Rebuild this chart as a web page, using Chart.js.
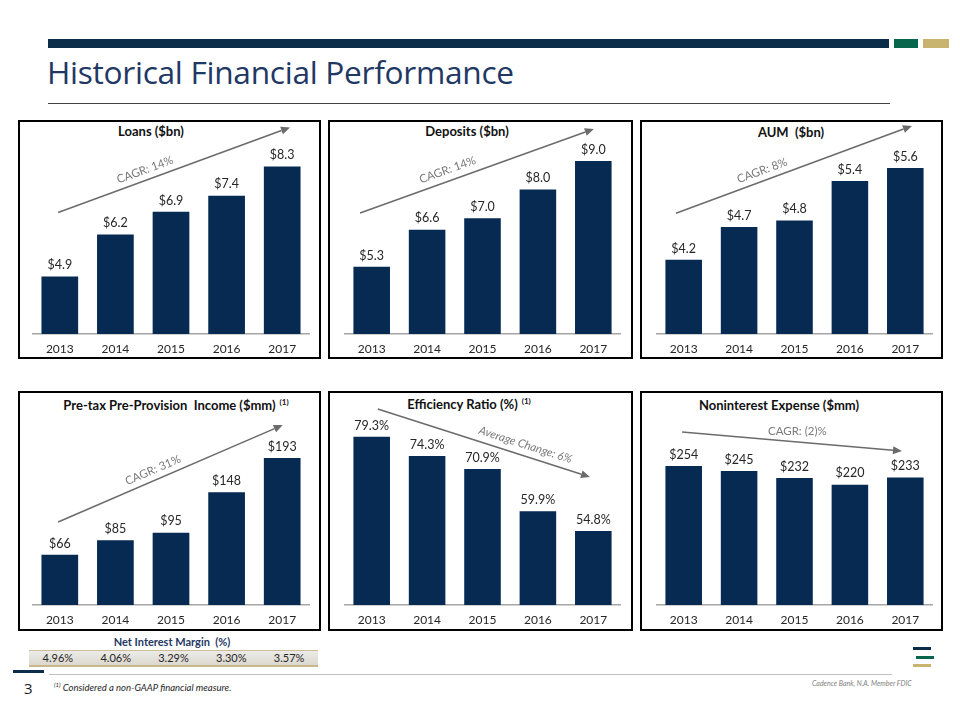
<!DOCTYPE html>
<html><head><meta charset="utf-8">
<script src="https://cdn.jsdelivr.net/npm/chart.js@4.4.1/dist/chart.umd.min.js"></script>
<style>
body{margin:0;width:960px;height:720px;position:relative;background:#fff;font-family:Lato,"Open Sans",sans-serif;overflow:hidden}
.abs{position:absolute}
.panel{position:absolute;border:2px solid #000;box-sizing:border-box}
.ptitle{position:absolute;font-weight:bold;font-size:13px;color:#111;white-space:nowrap;transform:translate(-50%,-50%)}
.ptitle sup{font-size:8px;vertical-align:5px;margin-left:4px}
canvas{position:absolute}
#nimTitle{position:absolute;left:172px;top:641px;transform:translate(-50%,-50%);font-weight:bold;font-size:11px;color:#1f3864;white-space:nowrap}
#nim{position:absolute;left:29px;top:650px;width:289px;height:14px;display:flex;background:linear-gradient(#ecebe7,#dcd8cf);border-top:1px solid #cdbf93;border-bottom:2px solid #c9b98a}
#nim div{flex:1;text-align:center;font-size:11px;line-height:14px;color:#262626}
</style></head><body>
<div class="abs" style="left:48px;top:39px;width:841px;height:9px;background:#0c2d4a"></div>
<div class="abs" style="left:894px;top:39px;width:24px;height:9px;background:#07664c"></div>
<div class="abs" style="left:923px;top:39px;width:26px;height:9px;background:#c8b46e"></div>
<div class="abs" id="title" style="left:47px;top:50px;font-family:'Open Sans';font-size:31.7px;color:#1f3864;white-space:nowrap;letter-spacing:-0.3px">Historical Financial Performance</div>
<div class="abs" style="left:48px;top:103px;width:842px;height:1px;background:#404040"></div>

<div class="panel" style="left:18px;top:120px;width:303px;height:239px"></div>
<div class="panel" style="left:328px;top:120px;width:305px;height:239px"></div>
<div class="panel" style="left:640px;top:120px;width:303px;height:239px"></div>
<div class="panel" style="left:18px;top:391px;width:303px;height:240px"></div>
<div class="panel" style="left:328px;top:391px;width:305px;height:240px"></div>
<div class="panel" style="left:640px;top:391px;width:303px;height:240px"></div>

<div class="ptitle" style="left:151px;top:131px">Loans ($bn)</div>
<div class="ptitle" style="left:467px;top:131px">Deposits ($bn)</div>
<div class="ptitle" style="left:791px;top:132px">AUM&nbsp; ($bn)</div>
<div class="ptitle" style="left:176px;top:405px">Pre-tax Pre-Provision&nbsp; Income ($mm)<sup>(1)</sup></div>
<div class="ptitle" style="left:469px;top:404px">Efficiency Ratio (%)<sup>(1)</sup></div>
<div class="ptitle" style="left:779px;top:405px">Noninterest Expense ($mm)</div>

<canvas id="c1" width="278" height="236" style="left:32px;top:122px"></canvas>
<canvas id="c2" width="277" height="236" style="left:344px;top:122px"></canvas>
<canvas id="c3" width="277" height="236" style="left:656px;top:122px"></canvas>
<canvas id="c4" width="278" height="236" style="left:32px;top:393px"></canvas>
<canvas id="c5" width="277" height="236" style="left:344px;top:393px"></canvas>
<canvas id="c6" width="277" height="236" style="left:656px;top:393px"></canvas>

<div id="nimTitle">Net Interest Margin&nbsp; (%)</div>
<div id="nim"></div>

<div class="abs" style="left:13px;top:670px;width:31px;height:3px;background:#0c2d4a"></div>
<div class="abs" style="left:49px;top:674px;width:843px;height:1px;background:#bfbfbf"></div>
<div class="abs" style="left:24px;top:678px;font-size:15px;color:#1a1a1a;font-family:'Open Sans'">3</div>
<div class="abs" style="left:54px;top:681px;font-size:9.5px;font-style:italic;color:#262626;white-space:nowrap"><sup style="font-size:6px">(1)</sup> Considered a non-GAAP financial measure.</div>
<div class="abs" style="left:812px;top:679px;font-size:7px;font-style:italic;color:#7f7f7f;white-space:nowrap">Cadence Bank, N.A. Member FDIC</div>
<div class="abs" style="left:913px;top:647px;width:18px;height:3px;background:#0c2d4a"></div>
<div class="abs" style="left:916px;top:656px;width:18px;height:3px;background:#07664c"></div>
<div class="abs" style="left:913px;top:664px;width:18px;height:3px;background:#c8b46e"></div>

<script>
const years = ['2013', '2014', '2015', '2016', '2017'];
const loans = [4.9, 6.2, 6.9, 7.4, 8.3];
const deposits = [5.3, 6.6, 7.0, 8.0, 9.0];
const aum = [4.2, 4.7, 4.8, 5.4, 5.6];
const pretaxIncome = [66, 85, 95, 148, 193];
const efficiencyRatio = [79.3, 74.3, 70.9, 59.9, 54.8];
const nonintExpense = [254, 245, 232, 220, 233];
const netInterestMargin = [4.96, 4.06, 3.29, 3.30, 3.57];
const trendLabels = ['CAGR: 14%', 'CAGR: 14%', 'CAGR: 8%', 'CAGR: 31%', 'Average Change: 6%', 'CAGR: (2)%'];

document.getElementById('nim').innerHTML = netInterestMargin.map(v => '<div>' + v.toFixed(2) + '%</div>').join('');

const BAR = '#062a52';
const money1 = v => '$' + v.toFixed(1);
const money0 = v => '$' + v.toFixed(0);
const pct1 = v => v.toFixed(1) + '%';

// trend arrows in data space: [categoryIndex, value]
const panels = [
  {id: 'c1', values: loans, fmt: money1, yMin: 3.12, yMax: 9.09, padTop: 19, trend: {label: trendLabels[0], from: [-0.03, 6.88], to: [4.14, 9.51], t: 0.39, off: 10, rotate: true, italic: false}},
  {id: 'c2', values: deposits, fmt: money1, yMin: 2.95, yMax: 9.70, padTop: 19, trend: {label: trendLabels[1], from: [-0.21, 7.18], to: [4.01, 10.12], t: 0.39, off: 11, rotate: true, italic: false}},
  {id: 'c3', values: aum, fmt: money1, yMin: 3.07, yMax: 6.01, padTop: 19, trend: {label: trendLabels[2], from: [-0.14, 4.91], to: [4.12, 6.24], t: 0.38, off: 10, rotate: true, italic: false}},
  {id: 'c4', values: pretaxIncome, fmt: money0, yMin: 0, yMax: 256, padTop: 17, trend: {label: trendLabels[3], from: [-0.03, 108.9], to: [4.01, 236.2], t: 0.44, off: 10, rotate: true, italic: false}},
  {id: 'c5', values: efficiencyRatio, fmt: pct1, yMin: 35.5, yMax: 86.3, padTop: 17, trend: {label: trendLabels[4], from: [0.11, 86.54], to: [3.94, 68.83], t: 0.68, off: 11, rotate: true, italic: true}},
  {id: 'c6', values: nonintExpense, fmt: money0, yMin: 0, yMax: 356.5, padTop: 17, trend: {label: trendLabels[5], from: [-0.03, 316.3], to: [3.94, 281.5], t: 0.52, off: 11, rotate: false, italic: false}}
];

const annotatePlugin = {
  id: 'annotate',
  afterDatasetsDraw(chart, args, opts) {
    const ctx = chart.ctx;
    const meta = chart.getDatasetMeta(0);
    const vals = chart.data.datasets[0].data;
    ctx.save();
    ctx.font = '12.5px Lato';
    ctx.fillStyle = '#262626';
    ctx.textAlign = 'center';
    ctx.textBaseline = 'bottom';
    meta.data.forEach((bar, i) => {
      ctx.fillText(opts.fmt(vals[i]), bar.x, bar.y - 5);
    });
    const tr = opts.trend;
    const xs = chart.scales.x, ys = chart.scales.y;
    const step = xs.getPixelForValue(1) - xs.getPixelForValue(0);
    const x0 = xs.getPixelForValue(0) + tr.from[0] * step, y0 = ys.getPixelForValue(tr.from[1]);
    const x1 = xs.getPixelForValue(0) + tr.to[0] * step, y1 = ys.getPixelForValue(tr.to[1]);
    const dx = x1 - x0, dy = y1 - y0, len = Math.hypot(dx, dy);
    const ux = dx / len, uy = dy / len;
    const head = 9, hw = 4;
    ctx.strokeStyle = '#6b6b6b';
    ctx.fillStyle = '#6b6b6b';
    ctx.lineWidth = 1.5;
    ctx.beginPath();
    ctx.moveTo(x0, y0);
    ctx.lineTo(x1 - ux * head, y1 - uy * head);
    ctx.stroke();
    ctx.beginPath();
    ctx.moveTo(x1, y1);
    ctx.lineTo(x1 - ux * head - uy * hw, y1 - uy * head + ux * hw);
    ctx.lineTo(x1 - ux * head + uy * hw, y1 - uy * head - ux * hw);
    ctx.closePath();
    ctx.fill();
    const nx = uy, ny = -ux;
    const tx = x0 + dx * tr.t + nx * tr.off, ty = y0 + dy * tr.t + ny * tr.off;
    ctx.translate(tx, ty);
    if (tr.rotate) ctx.rotate(Math.atan2(dy, dx));
    ctx.font = (tr.italic ? 'italic ' : '') + '11.5px Lato';
    ctx.fillStyle = '#7a7a7a';
    ctx.textBaseline = 'middle';
    ctx.fillText(tr.label, 0, 0);
    ctx.restore();
  }
};

panels.forEach(p => {
  new Chart(document.getElementById(p.id), {
    type: 'bar',
    data: {labels: years, datasets: [{data: p.values, backgroundColor: BAR, barPercentage: 0.66, categoryPercentage: 1.0}]},
    plugins: [annotatePlugin],
    options: {
      responsive: false,
      animation: false,
      devicePixelRatio: 1,
      layout: {padding: {top: p.padTop, left: 0, right: 0, bottom: 0}},
      plugins: {legend: {display: false}, tooltip: {enabled: false}, annotate: {fmt: p.fmt, trend: p.trend}},
      scales: {
        x: {
          grid: {display: false, drawTicks: false},
          border: {display: true, color: '#a6a6a6', width: 1.5},
          ticks: {padding: 8, color: '#262626', font: {family: 'Lato', size: 12}},
          afterFit: a => { a.height = 24; }
        },
        y: {display: false, min: p.yMin, max: p.yMax}
      }
    }
  });
});
</script>
</body></html>
